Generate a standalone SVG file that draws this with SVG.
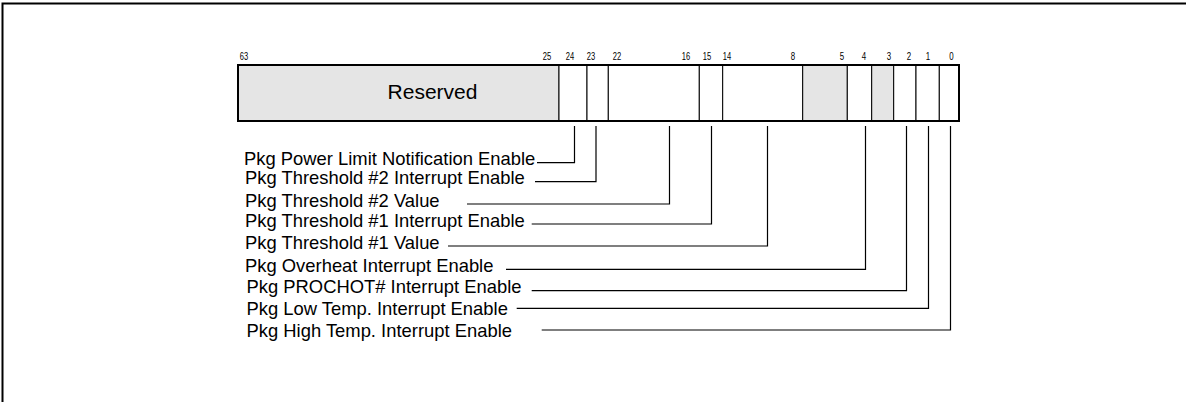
<svg xmlns="http://www.w3.org/2000/svg" width="1186" height="402" viewBox="0 0 1186 402">
<style>
.frame{stroke:#000;stroke-width:2;fill:none}
.fld{stroke:#000;stroke-width:1;}
.white{fill:#fff}
.gray{fill:#e5e5e5}
.outline{fill:none;stroke:#000;stroke-width:2}
.bit{font-family:"Liberation Sans",Arial,sans-serif;font-size:10.5px;fill:#000;text-anchor:middle}
.lbl{font-family:"Liberation Sans",Arial,sans-serif;font-size:18.4px;fill:#000}
.big{font-family:"Liberation Sans",Arial,sans-serif;font-size:21px;fill:#000;text-anchor:middle}
.conn{stroke:#000;stroke-width:1.2;fill:none}
</style>
<path class="frame" d="M2.5,402 V3.5 H1186"/>
<g id="register">
<g id="field-reserved"><rect class="gray fld" x="238" y="65" width="321" height="56"/><text class="big" x="432.5" y="98.5">Reserved</text></g>
<g id="field-24"><rect class="white fld" x="559" y="65" width="28" height="56"/></g>
<g id="field-23"><rect class="white fld" x="587" y="65" width="21.3" height="56"/></g>
<g id="field-22-16"><rect class="white fld" x="608.3" y="65" width="91" height="56"/></g>
<g id="field-15"><rect class="white fld" x="699.3" y="65" width="23.4" height="56"/></g>
<g id="field-14-8"><rect class="white fld" x="722.7" y="65" width="80" height="56"/></g>
<g id="field-7-5"><rect class="gray fld" x="802.7" y="65" width="44.6" height="56"/></g>
<g id="field-4"><rect class="white fld" x="847.3" y="65" width="24.4" height="56"/></g>
<g id="field-3"><rect class="gray fld" x="871.7" y="65" width="22" height="56"/></g>
<g id="field-2"><rect class="white fld" x="893.7" y="65" width="22.3" height="56"/></g>
<g id="field-1"><rect class="white fld" x="916" y="65" width="23.3" height="56"/></g>
<g id="field-0"><rect class="white fld" x="939.3" y="65" width="19.7" height="56"/></g>
<rect class="outline" x="238" y="65" width="721" height="56"/>
</g>
<g id="bit-numbers">
<text class="bit" x="244" y="59.5" textLength="8.4" lengthAdjust="spacingAndGlyphs">63</text>
<text class="bit" x="547" y="59.5" textLength="8.4" lengthAdjust="spacingAndGlyphs">25</text>
<text class="bit" x="570" y="59.5" textLength="8.4" lengthAdjust="spacingAndGlyphs">24</text>
<text class="bit" x="591" y="59.5" textLength="8.4" lengthAdjust="spacingAndGlyphs">23</text>
<text class="bit" x="617" y="59.5" textLength="8.4" lengthAdjust="spacingAndGlyphs">22</text>
<text class="bit" x="686" y="59.5" textLength="8.4" lengthAdjust="spacingAndGlyphs">16</text>
<text class="bit" x="707" y="59.5" textLength="8.4" lengthAdjust="spacingAndGlyphs">15</text>
<text class="bit" x="727" y="59.5" textLength="8.4" lengthAdjust="spacingAndGlyphs">14</text>
<text class="bit" x="793" y="59.5" textLength="4.4" lengthAdjust="spacingAndGlyphs">8</text>
<text class="bit" x="842" y="59.5" textLength="4.4" lengthAdjust="spacingAndGlyphs">5</text>
<text class="bit" x="864" y="59.5" textLength="4.4" lengthAdjust="spacingAndGlyphs">4</text>
<text class="bit" x="889" y="59.5" textLength="4.4" lengthAdjust="spacingAndGlyphs">3</text>
<text class="bit" x="909" y="59.5" textLength="4.4" lengthAdjust="spacingAndGlyphs">2</text>
<text class="bit" x="928" y="59.5" textLength="4.4" lengthAdjust="spacingAndGlyphs">1</text>
<text class="bit" x="951.5" y="59.5" textLength="4.4" lengthAdjust="spacingAndGlyphs">0</text>
</g>
<g id="labels">
<g id="lbl-power-limit"><text class="lbl" x="244" y="165">Pkg Power Limit Notification Enable</text></g>
<g id="lbl-thr2-int"><text class="lbl" x="245" y="184.3">Pkg Threshold #2 Interrupt Enable</text></g>
<g id="lbl-thr2-val"><text class="lbl" x="245" y="206.7">Pkg Threshold #2 Value</text></g>
<g id="lbl-thr1-int"><text class="lbl" x="245" y="227.3">Pkg Threshold #1 Interrupt Enable</text></g>
<g id="lbl-thr1-val"><text class="lbl" x="245" y="248.7">Pkg Threshold #1 Value</text></g>
<g id="lbl-overheat"><text class="lbl" x="245" y="271.7">Pkg Overheat Interrupt Enable</text></g>
<g id="lbl-prochot"><text class="lbl" x="246.5" y="293.3">Pkg PROCHOT# Interrupt Enable</text></g>
<g id="lbl-low-temp"><text class="lbl" x="246.5" y="315">Pkg Low Temp. Interrupt Enable</text></g>
<g id="lbl-high-temp"><text class="lbl" x="246.5" y="336.7">Pkg High Temp. Interrupt Enable</text></g>
</g>
<g id="connectors">
<path class="conn" d="M537,162.7 H574.5 V126"/>
<path class="conn" d="M535,181.7 H596 V126"/>
<path class="conn" d="M467,204 H669.5 V126"/>
<path class="conn" d="M531.7,224 H711.5 V126"/>
<path class="conn" d="M448,246 H767.5 V126"/>
<path class="conn" d="M506,269.3 H865.5 V126"/>
<path class="conn" d="M531.7,290.7 H906.5 V126"/>
<path class="conn" d="M516.7,308.3 H928.5 V126"/>
<path class="conn" d="M541.7,330 H950.5 V126"/>
</g>
</svg>
